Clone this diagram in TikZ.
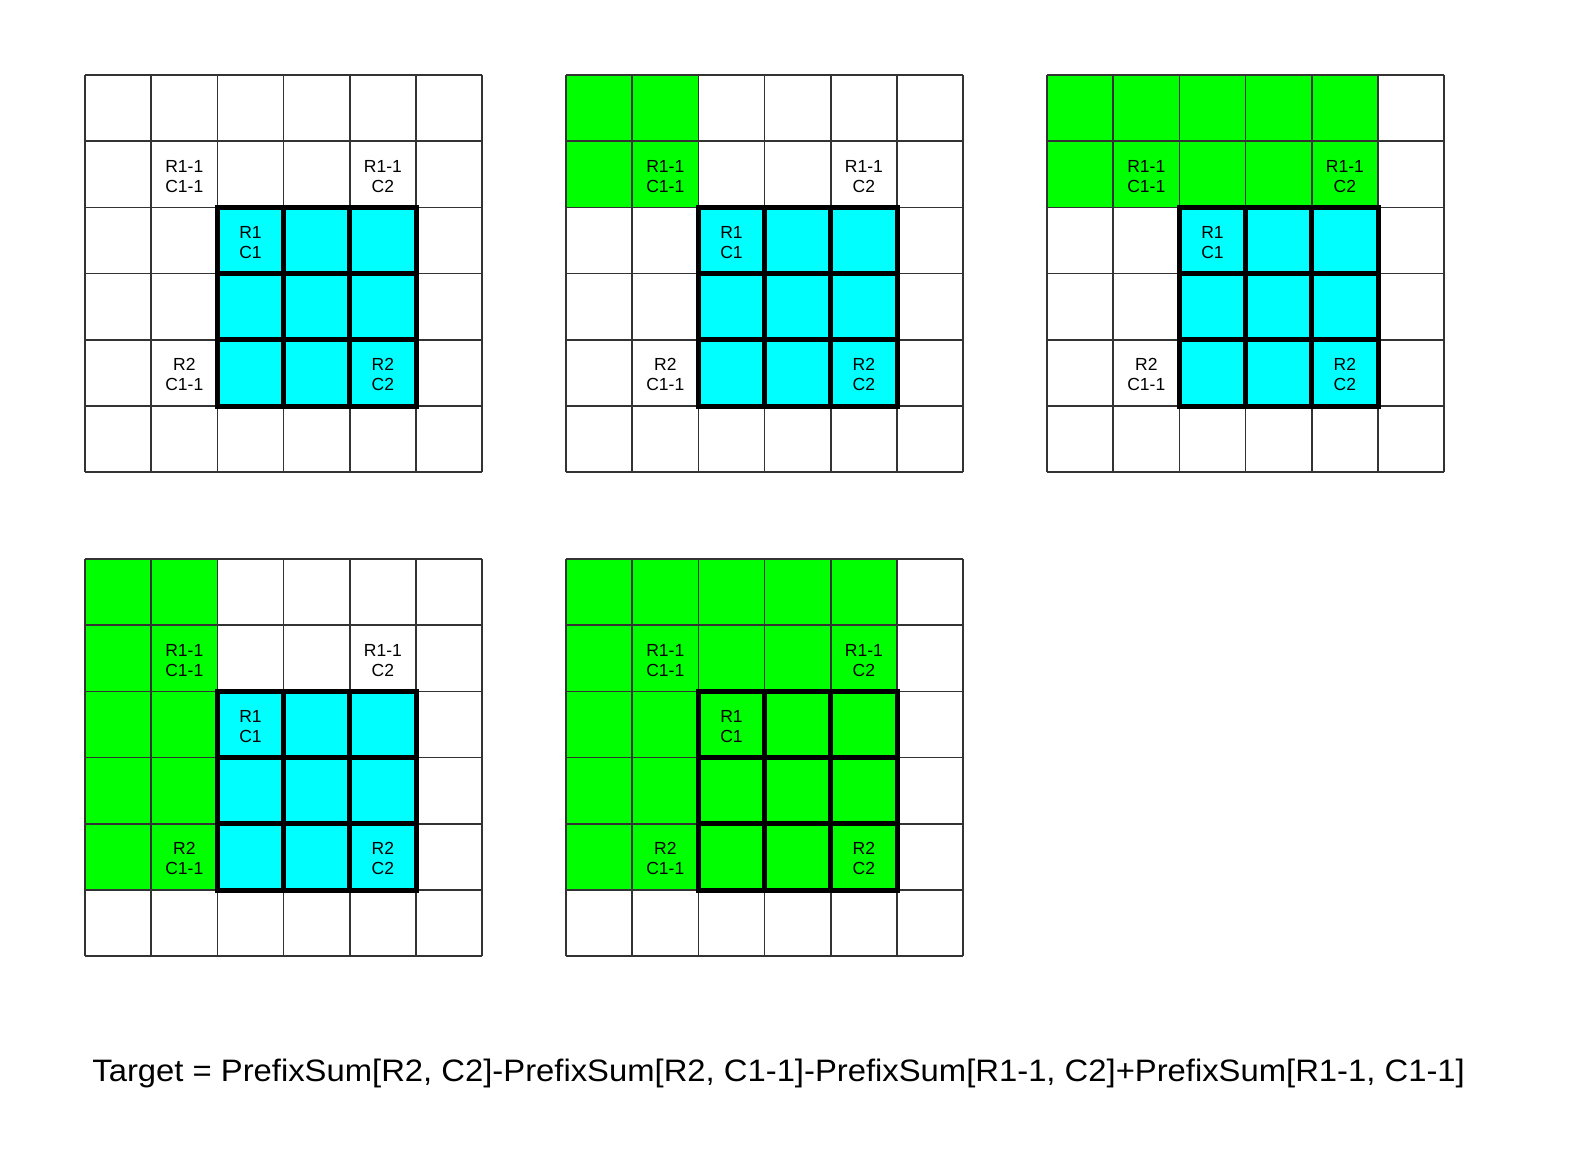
\documentclass[tikz,border=0pt]{standalone}
\usepackage{fontspec}
\setmainfont{Liberation Sans}
\definecolor{gfill}{HTML}{00FF00}
\definecolor{cfill}{HTML}{00FFFF}
\definecolor{gline}{HTML}{333333}
\begin{document}
\begin{tikzpicture}[x=0.5pt,y=-0.5pt,
  thinline/.style={draw=gline,line width=0.75pt},
  thickline/.style={draw=black,line width=2.5pt,line cap=rect},
  lbl/.style={font=\fontsize{8.75}{10}\selectfont,align=center,inner sep=0pt,yshift=-1pt},
  formula/.style={font=\fontsize{15.5}{18}\selectfont,inner sep=0pt,anchor=base west}]
\useasboundingbox (0,0) rectangle (1596,1164);
\def\cs{66.2}
\foreach \gx/\gy/\gr/\gc/\mid/\n in {85/75/0/0/cfill/a, 566/75/2/2/cfill/b, 1047/75/2/5/cfill/c, 85/559/5/2/cfill/d, 566/559/5/5/gfill/e} {
  \begin{scope}[shift={(\gx,\gy)}]
    \fill[gfill] (0,0) rectangle (\gc*\cs,\gr*\cs);
    \fill[\mid] (2*\cs,2*\cs) rectangle (5*\cs,5*\cs);
    \foreach \i in {0,...,6} {
      \draw[thinline] (\i*\cs,0) -- (\i*\cs,6*\cs);
      \draw[thinline] (0,\i*\cs) -- (6*\cs,\i*\cs);
    }
    \foreach \i in {2,...,5} {
      \draw[thickline] (\i*\cs,2*\cs) -- (\i*\cs,5*\cs);
      \draw[thickline] (2*\cs,\i*\cs) -- (5*\cs,\i*\cs);
    }
    \node[lbl] (\n-r1c1m) at (1.5*\cs,1.5*\cs) {R1-1\\C1-1};
    \node[lbl] (\n-r1c2m) at (4.5*\cs,1.5*\cs) {R1-1\\C2};
    \node[lbl] (\n-r1c1) at (2.5*\cs,2.5*\cs) {R1\\C1};
    \node[lbl] (\n-r2c1m) at (1.5*\cs,4.5*\cs) {R2\\C1-1};
    \node[lbl] (\n-r2c2) at (4.5*\cs,4.5*\cs) {R2\\C2};
  \end{scope}
}
\node[formula] (target) at (92,1081) {\scalebox{1.058}[1]{Target = PrefixSum[R2, C2]-PrefixSum[R2, C1-1]-PrefixSum[R1-1, C2]+PrefixSum[R1-1, C1-1]}};
\end{tikzpicture}
\end{document}
